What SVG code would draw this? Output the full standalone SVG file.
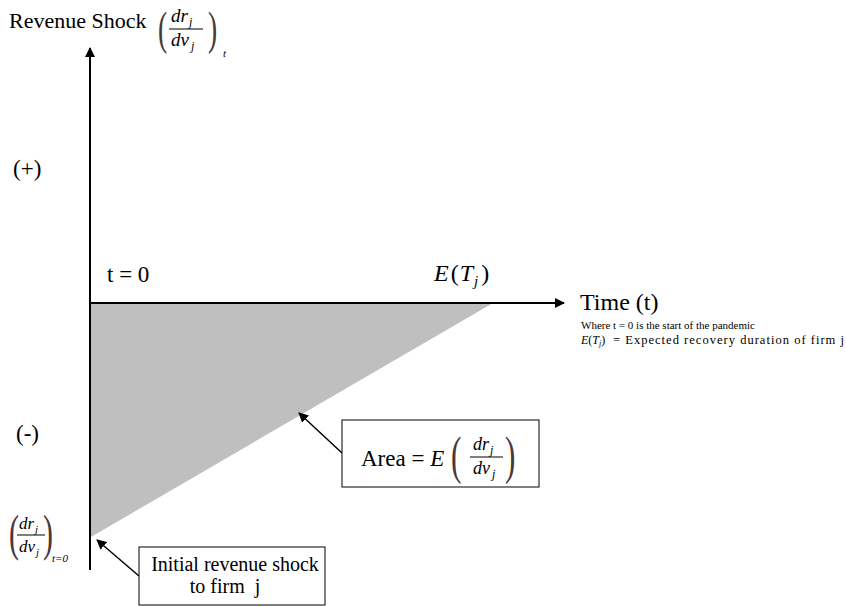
<svg xmlns="http://www.w3.org/2000/svg" width="846" height="607" viewBox="0 0 846 607">
<style>
text{font-family:"Liberation Serif","Times New Roman",serif;fill:#000}
.it{font-style:italic}
.par{fill:#4a3838}
.ax{stroke:#000;stroke-width:2;fill:none}
.ln{stroke:#000;stroke-width:1.5;fill:none}
.box{fill:#fff;stroke:#000;stroke-width:1}
.bar{stroke:#000;stroke-width:1}
</style>
<defs>
<marker id="ah" viewBox="0 0 10 10" refX="9" refY="5" markerWidth="10" markerHeight="10" markerUnits="userSpaceOnUse" orient="auto">
<path d="M0,0 L10,5 L0,10 z" fill="#000"/>
</marker>
</defs>

<g id="shaded-area">
<polygon points="91,303 493,303 91,537" fill="#bfbfbf"/>
</g>

<g id="connectors">
<line class="ax" x1="90" y1="570" x2="90" y2="48" marker-end="url(#ah)"/>
<line class="ax" x1="90" y1="303" x2="564" y2="303" marker-end="url(#ah)"/>
<line class="ln" x1="342" y1="453" x2="299" y2="413" marker-end="url(#ah)"/>
<line class="ln" x1="139" y1="576" x2="97" y2="540" marker-end="url(#ah)"/>
</g>

<g id="y-axis-label">
<text x="9" y="28" font-size="22">Revenue Shock</text>
<text class="par" transform="translate(158,44) scale(0.6,1)" font-size="46">(</text>
<text class="it" x="171" y="22" font-size="19">dr</text>
<text class="it" x="189" y="26" font-size="12">j</text>
<line class="bar" x1="169" y1="29" x2="203" y2="29"/>
<text class="it" x="171" y="46" font-size="19">dv</text>
<text class="it" x="191" y="50" font-size="12">j</text>
<text class="par" transform="translate(208,44) scale(0.6,1)" font-size="46">)</text>
<text class="it" x="223" y="57" font-size="11">t</text>
</g>

<g id="plus"><text x="13" y="176" font-size="23">(+)</text></g>
<g id="minus"><text x="16" y="441" font-size="23">(-)</text></g>
<g id="t0"><text x="107" y="282" font-size="23">t = 0</text></g>

<g id="ET">
<text x="434" y="281" font-size="24"><tspan class="it">E</tspan><tspan dx="2">(</tspan><tspan class="it" dx="1">T</tspan><tspan class="it" font-size="15" dx="1" dy="5">j</tspan><tspan dx="3" dy="-5">)</tspan></text>
</g>

<g id="x-axis-label">
<text x="580" y="310" font-size="24">Time (t)</text>
<text x="581" y="329" font-size="11">Where t = 0 is the start of the pandemic</text>
<text x="581" y="344" font-size="12"><tspan class="it">E</tspan>(<tspan class="it">T</tspan><tspan class="it" font-size="8" dy="2">j</tspan><tspan dy="-2">)</tspan></text>
<text x="613" y="344" font-size="12.5" textLength="231" lengthAdjust="spacing">= Expected recovery duration of firm j</text>
</g>

<g id="initial-shock-label">
<text class="par" transform="translate(9,550) scale(0.6,1)" font-size="50">(</text>
<text class="it" x="19" y="529" font-size="17">dr</text>
<text class="it" x="35" y="533" font-size="11">j</text>
<line class="bar" x1="17" y1="535" x2="45" y2="535"/>
<text class="it" x="19" y="552" font-size="17">dv</text>
<text class="it" x="36" y="556" font-size="11">j</text>
<text class="par" transform="translate(43,550) scale(0.6,1)" font-size="50">)</text>
<text class="it" x="52" y="562" font-size="11">t=0</text>
</g>

<g id="area-box">
<rect class="box" x="342" y="420" width="197" height="67"/>
<text x="361" y="466" font-size="23">Area = <tspan class="it">E</tspan></text>
<text class="par" transform="translate(451,473) scale(0.6,1)" font-size="52">(</text>
<text class="it" x="473" y="450" font-size="18">dr</text>
<text class="it" x="490" y="454" font-size="12">j</text>
<line class="bar" x1="470" y1="457" x2="503" y2="457"/>
<text class="it" x="473" y="474" font-size="18">dv</text>
<text class="it" x="492" y="478" font-size="12">j</text>
<text class="par" transform="translate(505,473) scale(0.6,1)" font-size="52">)</text>
</g>

<g id="initial-box">
<rect class="box" x="139" y="547" width="186" height="58"/>
<text x="235" y="571" font-size="20" text-anchor="middle">Initial revenue shock</text>
<text x="225" y="593" font-size="20" text-anchor="middle" xml:space="preserve">to firm  j</text>
</g>
</svg>
